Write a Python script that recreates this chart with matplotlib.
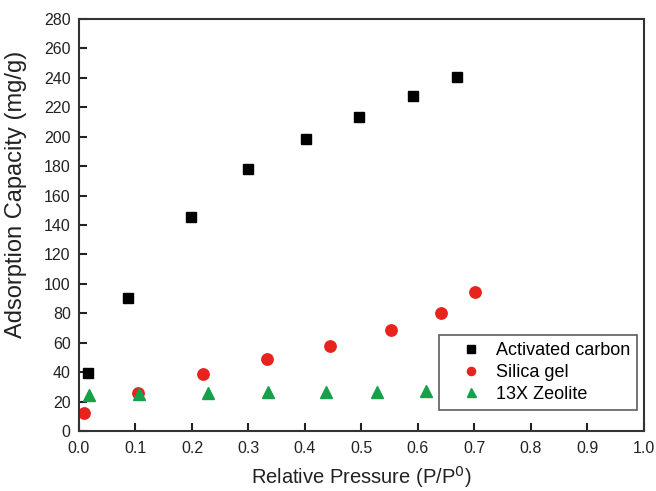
"""Adsorption isotherms of three sorbents versus relative pressure."""

import matplotlib

matplotlib.use("Agg")
import matplotlib.pyplot as plt
from matplotlib.ticker import FormatStrFormatter, MultipleLocator

# Activated carbon
carbon_p = [0.016, 0.086, 0.198, 0.300, 0.401, 0.496, 0.591, 0.669]
carbon_q = [39.2, 90.6, 145.5, 178.3, 198.3, 213.2, 227.5, 240.8]

# Silica gel
silica_p = [0.009, 0.105, 0.219, 0.333, 0.444, 0.552, 0.641, 0.701]
silica_q = [12.0, 26.0, 38.7, 48.7, 58.0, 68.7, 80.2, 94.3]

# 13X zeolite
zeolite_p = [0.018, 0.107, 0.228, 0.335, 0.438, 0.527, 0.615]
zeolite_q = [24.5, 25.0, 26.0, 26.3, 26.5, 26.7, 27.4]

plt.rcParams["font.family"] = ["Liberation Sans", "DejaVu Sans"]

fig = plt.figure(figsize=(6.56, 4.91), dpi=100)
ax = fig.add_axes([0.1204, 0.1222, 0.8613, 0.8391])

ax.plot(carbon_p, carbon_q, "s", color="black", markersize=7.5, label="Activated carbon")
ax.plot(silica_p, silica_q, "o", color="#e8231e", markersize=8.2, label="Silica gel")
ax.plot(zeolite_p, zeolite_q, "^", color="#16a04a", markersize=9.0, label="13X Zeolite")

ax.set_xlim(0.0, 1.0)
ax.set_ylim(0, 280)
ax.xaxis.set_major_locator(MultipleLocator(0.1))
ax.xaxis.set_major_formatter(FormatStrFormatter("%.1f"))
ax.yaxis.set_major_locator(MultipleLocator(20))

ax.tick_params(direction="in", length=6, width=1.5, top=False, right=False,
               labelsize=11.5, colors="#222222")
ax.tick_params(axis="x", pad=7)
ax.tick_params(axis="y", pad=6)
for spine in ax.spines.values():
    spine.set_linewidth(1.5)
    spine.set_color("#333333")

ax.set_xlabel("Relative Pressure (P/P$^{0}$)", fontsize=14.5, labelpad=6, color="#222222")
ax.set_ylabel("Adsorption Capacity (mg/g)", fontsize=17, color="#222222")
ax.yaxis.set_label_coords(-0.092, 0.574)

leg = ax.legend(loc="lower right", bbox_to_anchor=(0.988, 0.051), fontsize=13,
                frameon=True, fancybox=False, borderpad=0.4, labelspacing=0.26,
                handlelength=2.75, handletextpad=0.0, markerscale=0.72,
                borderaxespad=0.0)
leg.get_frame().set_edgecolor("#333333")
leg.get_frame().set_linewidth(1.2)

fig.savefig("out.png", dpi=100)
